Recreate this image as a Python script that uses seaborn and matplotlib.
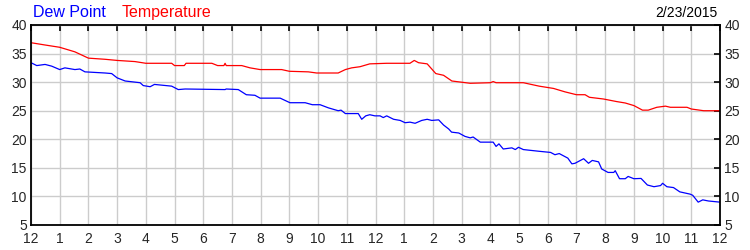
import matplotlib
matplotlib.use("Agg")
import matplotlib.pyplot as plt
import seaborn as sns
import pandas as pd

# ---- data (hours since midnight, degrees F) ----
temp_hours = [0, 0.49, 1.0, 1.53, 2.0, 2.58, 3.0, 3.62, 4.0, 4.9, 5.0, 5.34, 5.4, 6.3, 6.5, 6.72, 6.76, 6.8,
              7.34, 7.63, 7.98, 8.73, 9.0, 9.66, 9.95, 10.7, 10.95, 11.17, 11.46, 11.8, 12.39, 13.2,
              13.35, 13.5, 13.8, 14.1, 14.37, 14.66, 15.3, 16.0, 16.1, 16.2, 17.15, 17.7, 18.2,
              18.6, 19.0, 19.3, 19.45, 19.94, 20.4, 20.7, 21.0, 21.3, 21.5, 21.8, 22.1, 22.27,
              22.85, 23.0, 23.43, 24.0]
temp_vals = [36.9, 36.5, 36.1, 35.3, 34.2, 34.0, 33.8, 33.6, 33.3, 33.3, 32.9, 32.9, 33.3, 33.3, 32.9, 32.9, 33.3, 32.9,
             32.9, 32.5, 32.2, 32.2, 31.9, 31.8, 31.6, 31.6, 32.2, 32.5, 32.7, 33.2, 33.3, 33.3,
             33.8, 33.4, 33.2, 31.5, 31.2, 30.2, 29.8, 29.9, 30.1, 29.9, 29.9, 29.3, 28.9,
             28.3, 27.8, 27.8, 27.35, 27.05, 26.6, 26.35, 25.9, 25.1, 25.1, 25.6, 25.8, 25.6,
             25.6, 25.3, 25.0, 25.0]

dew_hours = [0, 0.2, 0.49, 0.72, 1.0, 1.18, 1.53, 1.7, 1.88, 2.58, 2.81, 3.0, 3.28, 3.8, 3.91, 4.15, 4.3,
             4.9, 5.13, 5.37, 6.76, 6.8, 7.22, 7.5, 7.8, 7.98, 8.68, 9.02, 9.55, 9.8, 10.07, 10.36,
             10.7, 10.8, 10.95, 11.4, 11.52, 11.66, 11.8, 11.98, 12.16, 12.27, 12.39, 12.63, 12.86,
             13.03, 13.2, 13.38, 13.61, 13.8, 13.96, 14.2, 14.37, 14.55, 14.65, 14.9, 15.12, 15.3,
             15.4, 15.65, 16.1, 16.2, 16.3, 16.45, 16.75, 16.87, 16.98, 17.15, 17.7, 18.1, 18.25,
             18.4, 18.7, 18.84, 18.95, 19.25, 19.42, 19.55, 19.77, 19.88, 20.1, 20.3, 20.35, 20.5,
             20.7, 20.8, 21.0, 21.25, 21.47, 21.7, 21.93, 22.0, 22.15, 22.38, 22.6, 22.96, 23.05,
             23.24, 23.4, 23.6, 24.0]
dew_vals = [33.4, 32.9, 33.1, 32.8, 32.2, 32.5, 32.2, 32.3, 31.8, 31.6, 31.5, 30.75, 30.2, 29.9, 29.4, 29.2, 29.6,
            29.3, 28.7, 28.8, 28.7, 28.8, 28.7, 27.8, 27.7, 27.2, 27.2, 26.4, 26.4, 26.05, 26.05, 25.5,
            25.0, 25.1, 24.5, 24.5, 23.5, 24.1, 24.3, 24.1, 24.1, 23.8, 24.1, 23.5, 23.3,
            22.9, 23.0, 22.8, 23.3, 23.5, 23.3, 23.4, 22.5, 21.8, 21.25, 21.1, 20.5, 20.25,
            20.4, 19.5, 19.5, 18.75, 19.2, 18.3, 18.5, 18.2, 18.6, 18.2, 17.9, 17.7, 17.3,
            17.5, 16.7, 15.7, 15.8, 16.6, 15.8, 16.3, 16.05, 14.8, 14.2, 14.2, 14.5, 13.1,
            13.1, 13.5, 13.1, 13.15, 12.0, 11.7, 11.9, 12.3, 11.7, 11.55, 10.8, 10.4, 10.2,
            9.0, 9.4, 9.2, 9.0]

hour_labels = ["12", "1", "2", "3", "4", "5", "6", "7", "8", "9", "10", "11",
               "12", "1", "2", "3", "4", "5", "6", "7", "8", "9", "10", "11", "12"]
y_ticks = [5, 10, 15, 20, 25, 30, 35, 40]
date_text = "2/23/2015"
series_names = ["Dew Point", "Temperature"]

sns.set_style("white")
plt.rcParams['font.family'] = ['Liberation Sans', 'DejaVu Sans']

fig = plt.figure(figsize=(7.5, 2.5), dpi=100)
ax = fig.add_axes([31 / 750, 25 / 250, 689 / 750, 200 / 250])

temp_df = pd.DataFrame({"hour": temp_hours, "value": temp_vals})
dew_df = pd.DataFrame({"hour": dew_hours, "value": dew_vals})

sns.lineplot(data=temp_df, x="hour", y="value", ax=ax, color="#ff0000", linewidth=0.9,
             estimator=None, sort=False)
sns.lineplot(data=dew_df, x="hour", y="value", ax=ax, color="#0000ff", linewidth=0.9,
             estimator=None, sort=False)

ax.set_xlim(0, 24)
ax.set_ylim(5, 40)
ax.set_xticks(range(len(hour_labels)))
ax.set_xticklabels(hour_labels)
ax.set_yticks(y_ticks)
ax.set_yticklabels([str(v) for v in y_ticks])
ax.set_xlabel("")
ax.set_ylabel("")
ax.grid(True, color="#cccccc", linewidth=1.0)
ax.set_axisbelow(True)
for s in ax.spines.values():
    s.set_visible(True)
    s.set_color("black")
    s.set_linewidth(1.3)
ax.tick_params(axis="both", direction="in", length=4, width=1.2, color="black",
               top=True, right=True, labelright=True, labelsize=10, pad=3)
ax.tick_params(axis="x", pad=5)

fig.text(33 / 750, 1 - 17 / 250, series_names[0], color="#0000ff", fontsize=11.5, ha="left", va="baseline")
fig.text(122 / 750, 1 - 17 / 250, series_names[1], color="#ff0000", fontsize=11.5, ha="left", va="baseline")
fig.text(717 / 750, 1 - 17 / 250, date_text, color="black", fontsize=10, ha="right", va="baseline")

fig.savefig("out.png", dpi=100)
